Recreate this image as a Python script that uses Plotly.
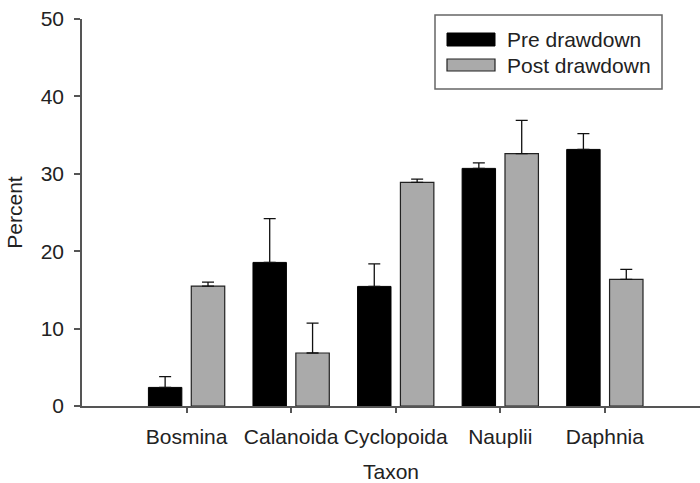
import plotly.graph_objects as go

categories = ["Bosmina", "Calanoida", "Cyclopoida", "Nauplii", "Daphnia"]
series_names = ["Pre drawdown", "Post drawdown"]
pre_values = [2.4, 18.55, 15.45, 30.7, 33.15]
pre_err = [1.4, 5.65, 2.9, 0.7, 2.05]
post_values = [15.5, 6.85, 28.9, 32.6, 16.35]
post_err = [0.5, 3.85, 0.4, 4.3, 1.3]
y_ticks = [0, 10, 20, 30, 40, 50]

xpos = list(range(1, len(categories) + 1))
FONT = "Liberation Sans, Arial, sans-serif"
FS = 21
TXT = "#222222"
AX = "#555555"

fig = go.Figure()
fig.add_trace(go.Bar(
    x=xpos, y=pre_values, name=series_names[0],
    marker=dict(color="#000000", line=dict(color="#000000", width=1)),
    error_y=dict(type="data", symmetric=False, array=pre_err,
                 arrayminus=[0] * len(pre_err), color="#111111",
                 thickness=1.3, width=6),
    showlegend=False,
))
fig.add_trace(go.Bar(
    x=xpos, y=post_values, name=series_names[1],
    marker=dict(color="#aaaaaa", line=dict(color="#222222", width=1.2)),
    error_y=dict(type="data", symmetric=False, array=post_err,
                 arrayminus=[0] * len(post_err), color="#111111",
                 thickness=1.3, width=6),
    showlegend=False,
))

# plot area geometry (pixels) for the custom legend
L, R, T, B = 82, 0, 19, 77
W, H = 700, 483
pw, ph = W - L - R, H - T - B

def px(x):
    return (x - L) / pw

def py(y):
    return (H - B - y) / ph

shapes = [
    dict(type="rect", xref="paper", yref="paper",
         x0=px(435), x1=px(662), y0=py(89), y1=py(15),
         line=dict(color="#666666", width=1.5), fillcolor="white"),
    dict(type="rect", xref="paper", yref="paper",
         x0=px(447), x1=px(495), y0=py(46), y1=py(33),
         line=dict(color="#000000", width=1), fillcolor="#000000"),
    dict(type="rect", xref="paper", yref="paper",
         x0=px(447), x1=px(495), y0=py(71), y1=py(59),
         line=dict(color="#222222", width=1.2), fillcolor="#aaaaaa"),
]
annotations = [
    dict(text=series_names[0], xref="paper", yref="paper", x=px(505), y=py(40),
         xanchor="left", yanchor="middle", showarrow=False,
         font=dict(family=FONT, size=FS, color=TXT)),
    dict(text=series_names[1], xref="paper", yref="paper", x=px(505), y=py(65.5),
         xanchor="left", yanchor="middle", showarrow=False,
         font=dict(family=FONT, size=FS, color=TXT)),
]

fig.update_layout(
    width=W, height=H,
    margin=dict(l=L, r=R, t=T, b=B, pad=0),
    paper_bgcolor="white", plot_bgcolor="white",
    barmode="group", bargap=0.18, bargroupgap=0.22,
    font=dict(family=FONT, size=FS, color=TXT),
    shapes=shapes, annotations=annotations,
    xaxis=dict(
        range=[0, 5.91], tickvals=xpos, ticktext=categories,
        showgrid=False, zeroline=False, showline=True, linecolor=AX, linewidth=1.5,
        ticks="outside", ticklen=5, tickcolor=AX, tickwidth=1.5,
        ticklabelstandoff=6,
        title=dict(text="Taxon", font=dict(family=FONT, size=FS, color=TXT), standoff=18),
    ),
    yaxis=dict(
        range=[0, 50], tickvals=y_ticks,
        showgrid=False, zeroline=False, showline=True, linecolor=AX, linewidth=1.5,
        ticks="outside", ticklen=6, tickcolor=AX, tickwidth=1.5,
        ticklabelstandoff=6,
        title=dict(text="Percent", font=dict(family=FONT, size=FS, color=TXT), standoff=12),
    ),
)

fig.write_html("out.html")
